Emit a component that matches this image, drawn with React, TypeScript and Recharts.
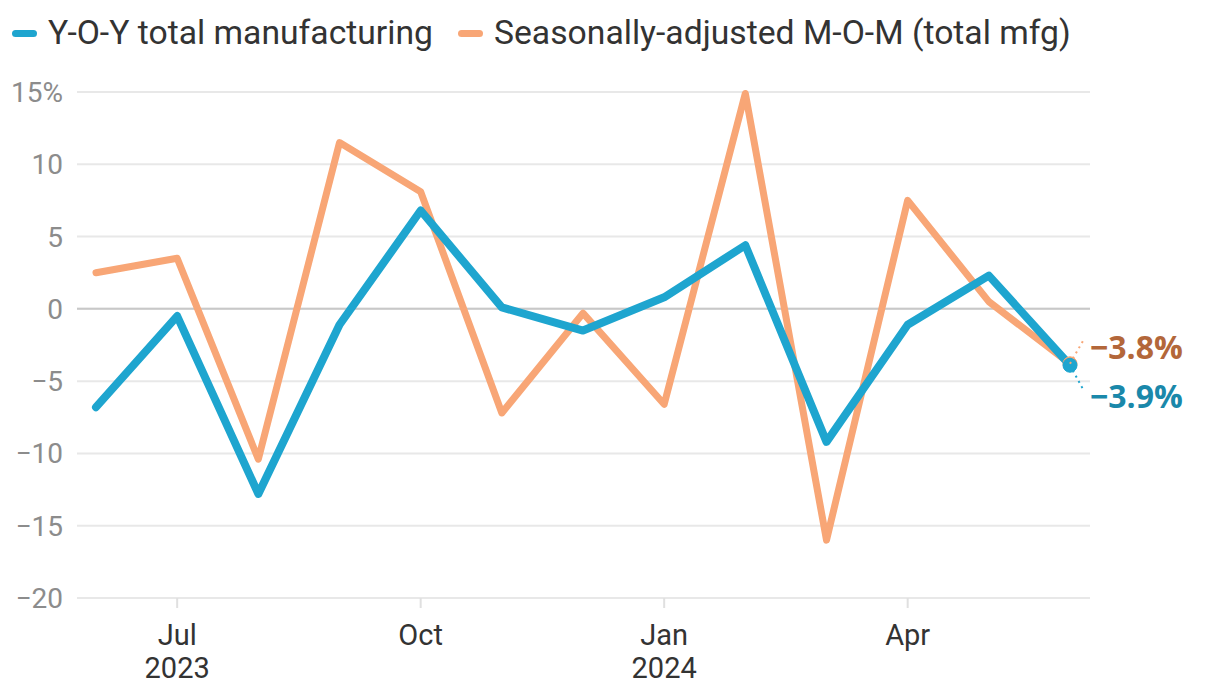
import React from "react";
import { LineChart, Line, XAxis, YAxis, CartesianGrid, ReferenceLine, Legend } from "recharts";

const months = ["2023-06","2023-07","2023-08","2023-09","2023-10","2023-11","2023-12","2024-01","2024-02","2024-03","2024-04","2024-05","2024-06"];
const yoyValues = [-6.8,-0.5,-12.8,-1.1,6.8,0.1,-1.5,0.8,4.4,-9.2,-1.1,2.3,-3.9];
const momValues = [2.5,3.5,-10.4,11.5,8.1,-7.2,-0.3,-6.6,14.9,-16.0,7.5,0.5,-3.8];
const xTicks = ["2023-07","2023-10","2024-01","2024-04"];
const xTickLabels: Record<string, [string, string]> = {
  "2023-07": ["Jul", "2023"],
  "2023-10": ["Oct", ""],
  "2024-01": ["Jan", "2024"],
  "2024-04": ["Apr", ""],
};
const yTicks = [-20,-15,-10,-5,0,5,10,15];
const seriesNames = ["Y-O-Y total manufacturing", "Seasonally-adjusted M-O-M (total mfg)"];

const data = months.map((m, i) => ({ month: m, yoy: yoyValues[i], mom: momValues[i] }));

const BLUE = "#1ea5cf";
const ORANGE = "#f8a676";
const FONT = "Roboto, 'Noto Sans', sans-serif";
const LABEL_FONT = "'Open Sans', Roboto, sans-serif";
const last = months.length - 1;

const fmt = (v: number) => {
  const s = v < 0 ? "\u2212" + Math.abs(v) : String(v);
  return s;
};

const YTick = (props: any) => {
  const { y, payload } = props;
  const v = payload.value;
  const label = fmt(v) + (v === 15 ? "%" : "");
  return (
    <text x={63} y={y} dy={10} textAnchor="end" fill="#8c8c8c" fontSize={28} fontFamily={FONT}>
      {label}
    </text>
  );
};

const XTick = (props: any) => {
  const { x, y, payload } = props;
  const [m, yr] = xTickLabels[payload.value] || ["", ""];
  return (
    <g>
      <text x={x} y={y + 35} textAnchor="middle" fill="#333" fontSize={29} fontFamily={FONT}>{m}</text>
      {yr ? <text x={x} y={y + 68} textAnchor="middle" fill="#333" fontSize={29} fontFamily={FONT}>{yr}</text> : null}
    </g>
  );
};

const LegendContent = () => (
  <div style={{ position: "relative", height: 60, width: 1220, fontFamily: FONT, color: "#333", fontSize: 33.7 }}>
    <div style={{ position: "absolute", left: 12, top: 30, width: 25, height: 7, borderRadius: 4, background: BLUE }} />
    <div style={{ position: "absolute", left: 48, top: 12, lineHeight: "42px", whiteSpace: "nowrap" }}>{seriesNames[0]}</div>
    <div style={{ position: "absolute", left: 458, top: 30, width: 25, height: 7, borderRadius: 4, background: ORANGE }} />
    <div style={{ position: "absolute", left: 494, top: 12, lineHeight: "42px", whiteSpace: "nowrap" }}>{seriesNames[1]}</div>
  </div>
);

const makeDot = (color: string, r: number) => (props: any) => {
  const { cx, cy, index } = props;
  if (index !== last) return <g key={"d" + index} />;
  return <circle key={"d" + index} cx={cx} cy={cy} r={r} fill={color} stroke={color} strokeWidth={1} />;
};

const makeEndLabel = (color: string, textColor: string, up: boolean) => (props: any) => {
  const { x, y, index, value } = props;
  if (index !== last) return <g key={"l" + index} />;
  const x2 = x + 13;
  const y2 = up ? y - 23 : y + 24;
  const ty = up ? y - 5 : y + 43;
  return (
    <g key={"l" + index}>
      <line x1={x} y1={y} x2={x2} y2={y2} stroke={color} strokeWidth={2} strokeDasharray="2 4" />
      <text x={x + 20} y={ty} fill={textColor} fontSize={32} fontWeight={700} fontFamily={LABEL_FONT}>
        {fmt(value)}%
      </text>
    </g>
  );
};

export default function App() {
  return (
    <div style={{ position: "absolute", left: 0, top: 0, width: 1220, height: 698, background: "#fff" }}>
      <LineChart width={1220} height={698} data={data} margin={{ top: 32, right: 130, bottom: 0, left: 0 }}>
        <Legend verticalAlign="top" align="left" content={<LegendContent />} wrapperStyle={{ top: 0, left: 0, width: 1220, height: 60 }} />
        <CartesianGrid vertical={false} stroke="#e8e8e8" strokeWidth={2} />
        <ReferenceLine y={0} stroke="#c8c8c8" strokeWidth={2} />
        <XAxis
          dataKey="month"
          ticks={xTicks}
          interval={0}
          padding={{ left: 19, right: 20 }}
          axisLine={false}
          tickLine={{ stroke: "#e0e0e0", strokeWidth: 2 }}
          tickSize={10}
          tick={<XTick />}
          height={100}
        />
        <YAxis
          domain={[-20, 15]}
          ticks={yTicks}
          interval={0}
          width={77}
          axisLine={false}
          tickLine={false}
          tick={<YTick />}
        />
        <Line
          type="linear"
          dataKey="mom"
          stroke={ORANGE}
          strokeWidth={7}
          strokeLinejoin="round"
          strokeLinecap="round"
          dot={makeDot(ORANGE, 7)}
          activeDot={false}
          label={makeEndLabel(ORANGE, "#b3673a", true)}
          isAnimationActive={false}
        />
        <Line
          type="linear"
          dataKey="yoy"
          stroke={BLUE}
          strokeWidth={8}
          strokeLinejoin="round"
          strokeLinecap="round"
          dot={makeDot(BLUE, 7)}
          activeDot={false}
          label={makeEndLabel(BLUE, "#1a88aa", false)}
          isAnimationActive={false}
        />
      </LineChart>
    </div>
  );
}
